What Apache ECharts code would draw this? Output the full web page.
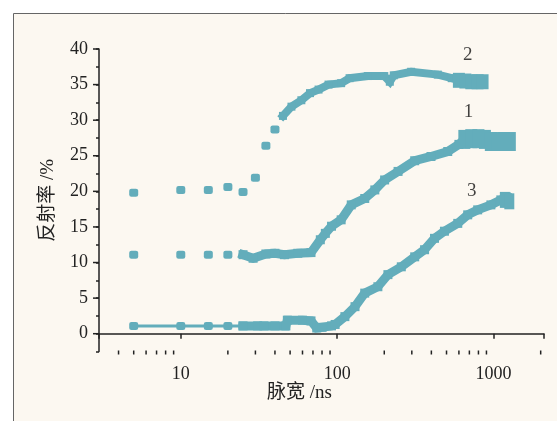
<!DOCTYPE html>
<html>
<head>
<meta charset="utf-8">
<script src="https://cdn.jsdelivr.net/npm/echarts@6/dist/echarts.min.js"></script>
<style>
html,body{margin:0;padding:0;background:#fff;}
#chart{width:557px;height:421px;}
</style>
</head>
<body>
<div id="chart"></div>
<script>
// ---- data (pulse width ns, reflectivity %) ----
const s1Dots = [[5,11.1],[10,11.1],[15,11.1],[20,11.1]];
const s1Band = [[25,11.1],[29,10.6],[35,11.2],[40,11.3],[46,11.1],[56,11.3],[68,11.4],[78,13.2],[84,14.1],[92,15.1],[106,16.0],[123,18.1],[150,19.0],[174,20.2],[201,21.6],[245,22.8],[313,24.3],[398,24.9],[509,25.6],[600,26.6],[650,27.3]];
const s1End = [[650,27.3],[720,27.4],[800,27.4],[880,27.3],[960,27.0],[1060,27.0],[1170,27.0],[1270,27.0]];
const s2Dots = [[5,19.8],[10,20.2],[15,20.2],[20,20.6],[25,19.9],[30,21.9],[35,26.4],[40,28.7]];
const s2Band = [[45,30.6],[51,31.9],[59,32.8],[67,33.8],[76,34.3],[88,35.0],[106,35.2],[120,35.9],[157,36.2],[200,36.2],[217,35.4],[230,36.3],[297,36.8],[440,36.4],[540,35.9],[600,35.6]];
const s2End = [[600,35.6],[660,35.5],[720,35.4],[790,35.4],[850,35.4]];
const s3Thin = [[5,1.1],[10,1.1],[15,1.1],[20,1.1],[25,1.1]];
const s3Band = [[25,1.1],[31,1.1],[34,1.1],[40,1.1],[47,1.1],[48,1.9],[60,1.9],[68,1.8],[74,0.8],[80,0.9],[92,1.1],[97,1.3],[112,2.4],[130,3.8],[150,5.7],[182,6.6],[211,8.3],[257,9.4],[313,10.8],[362,11.8],[419,13.4],[485,14.4],[590,15.5],[683,16.7],[791,17.4],[961,18.1],[1112,18.8],[1227,19.1]];
const s3End = [[1180,18.8],[1260,18.6]];
const curveLabels = [['2',683,39.2],['1',690,31.1],['3',724,20.1]];
const xMin = 3, xMax = 2100;
const yMin = -2.5, yMax = 40;
const xMajorLabels = [10,100,1000];
const xMinorTicks = [4,5,6,7,8,9,20,30,40,50,60,70,80,90,200,300,400,500,600,700,800,900,2000];
const yMajorTicks = [0,5,10,15,20,25,30,35,40];

const COLOR = '#63adbb';
const SERIF = '"Liberation Serif","DejaVu Serif","Noto Sans CJK SC",serif';
const chart = echarts.init(document.getElementById('chart'));

function dots(data, size, sym){
  return {type:'scatter', data:data, symbol:sym || 'roundRect', symbolSize:size || [9,8],
    itemStyle:{color:COLOR, opacity:1}, clip:false, z:3, silent:true};
}
function band(data, w){
  return {type:'line', data:data, symbol:'rect', symbolSize:w, showSymbol:true, itemStyle:{color:COLOR, opacity:1},
    lineStyle:{color:COLOR, width:w, cap:'square', join:'miter'}, clip:false, z:3, silent:true};
}

chart.setOption({
  animation:false,
  backgroundColor:'#ffffff',
  graphic:[
    {type:'rect', z:-100, silent:true, shape:{x:13.5,y:13.5,width:600,height:500},
     style:{fill:'#fcf8f1', stroke:'#666', lineWidth:1}},
    {type:'text', left:267, top:384, silent:true,
     style:{text:'脉宽 /ns', font:'19px '+SERIF, fill:'#222'}}
  ],
  grid:{left:99, right:13, top:49, bottom:69.5},
  xAxis:{type:'log', logBase:10, min:xMin, max:xMax,
    axisLine:{lineStyle:{color:'#222', width:1.5}},
    axisTick:{show:true, length:5, inside:false, lineStyle:{color:'#222', width:1.5}},
    axisLabel:{margin:14, color:'#222', fontFamily:SERIF, fontSize:18,
      showMinLabel:true, showMaxLabel:true,
      formatter:function(v){
        for (const m of xMajorLabels){ if (Math.abs(Math.log10(v)-Math.log10(m))<0.01) return String(m); }
        return '';
      }},
    splitLine:{show:false}},
  yAxis:{type:'value', min:yMin, max:yMax, interval:2.5,
    name:'反射率 /%', nameLocation:'middle', nameGap:41, nameRotate:90,
    nameTextStyle:{fontFamily:SERIF, fontSize:19, color:'#222'},
    axisLine:{show:true, lineStyle:{color:'#222', width:1.5}},
    axisTick:{show:true, length:3, lineStyle:{color:'#222', width:1.5}},
    axisLabel:{margin:11, color:'#222', fontFamily:SERIF, fontSize:18,
      formatter:function(v){ return (Math.abs(v%5)<1e-6) ? String(v) : ''; }},
    splitLine:{show:false}},
  series:[
    {type:'scatter', data:xMinorTicks.map(v=>[v,yMin]), symbol:'rect', symbolSize:[1.5,4], symbolOffset:[0,1],
     itemStyle:{color:'#222', opacity:1}, clip:false, silent:true, z:1},
    {type:'scatter', data:yMajorTicks.map(v=>[xMin,v]), symbol:'rect', symbolSize:[6,1.5], symbolOffset:[-3,0],
     itemStyle:{color:'#222', opacity:1}, clip:false, silent:true, z:1},
    dots(s1Dots), band(s1Band, 9), dots(s1End, [12,19], 'rect'),
    dots(s2Dots), band(s2Band, 8), dots(s2End, [12,15], 'rect'),
    {type:'line', data:s3Thin, symbol:'roundRect', symbolSize:[9,8], showSymbol:true, itemStyle:{color:COLOR, opacity:1},
     lineStyle:{color:COLOR, width:3}, clip:false, z:3, silent:true},
    band(s3Band, 9), dots(s3End, [10,16], 'rect'),
    {type:'scatter', data:curveLabels.map(d=>({name:d[0], value:[d[1],d[2]]})), symbolSize:0, silent:true,
     label:{show:true, position:'inside', formatter:'{b}', fontFamily:SERIF, fontSize:19, color:'#111'}, clip:false, z:5}
  ]
});
</script>
</body>
</html>
